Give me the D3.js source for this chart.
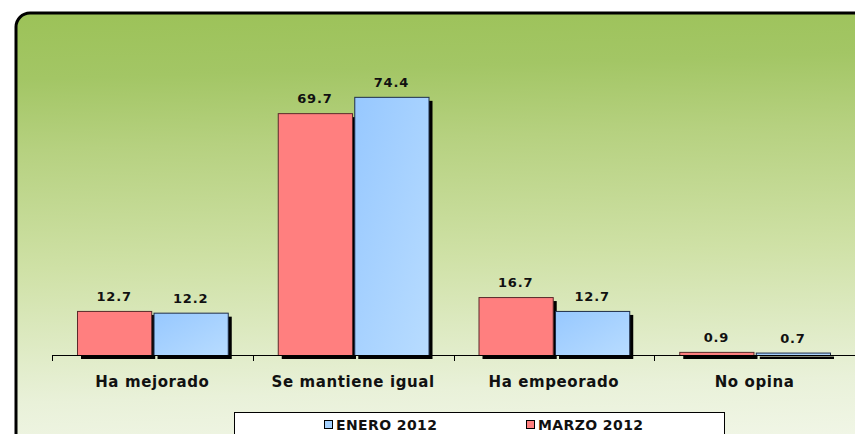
<!DOCTYPE html>
<html><head><meta charset="utf-8">
<script src="https://cdn.jsdelivr.net/npm/d3@7"></script>
<style>body{margin:0;background:#fff;} svg{display:block;}</style>
</head><body>
<script>
const categories = ["Ha mejorado", "Se mantiene igual", "Ha empeorado", "No opina"];
const seriesNames = ["MARZO 2012", "ENERO 2012"];
const marzo = [12.7, 69.7, 16.7, 0.9];
const enero = [12.2, 74.4, 12.7, 0.7];
const legendOrder = ["ENERO 2012", "MARZO 2012"];

const W = 855, H = 434;
const svg = d3.select("body").append("svg").attr("width", W).attr("height", H);
const defs = svg.append("defs");

const bg = defs.append("linearGradient").attr("id", "bg").attr("x1", "0").attr("y1", "0").attr("x2", "0.06").attr("y2", "1");
[[0, "#9cc258"], [0.14, "#a3c665"], [0.29, "#b6d180"], [0.54, "#cfe1a6"], [0.82, "#e9f1d9"], [1, "#f4f8ec"]]
  .forEach(([o, c]) => bg.append("stop").attr("offset", o).attr("stop-color", c));

const blueG = defs.append("linearGradient").attr("id", "blueG").attr("x1", "0").attr("y1", "0").attr("x2", "1").attr("y2", "1");
blueG.append("stop").attr("offset", "0").attr("stop-color", "#97c8ff");
blueG.append("stop").attr("offset", "1").attr("stop-color", "#b8dcff");

svg.append("rect").attr("x", 16).attr("y", 13).attr("width", W + 40).attr("height", 474)
  .attr("rx", 14).attr("fill", "url(#bg)").attr("stroke", "#000").attr("stroke-width", 3);

const x0 = d3.scaleBand().domain(categories).range([52, 855]).paddingInner(0).paddingOuter(0);
const x1 = d3.scaleBand().domain(seriesNames).range([25, x0.bandwidth() - 25]).paddingInner(0.03);
const y = d3.scaleLinear().domain([0, 80]).range([355, 355 - 80 * 3.47]);

const colors = { "MARZO 2012": "#ff7f7f", "ENERO 2012": "url(#blueG)" };
const strokes = { "MARZO 2012": "#5a2a2a", "ENERO 2012": "#1e2e4a" };
const legendColors = { "MARZO 2012": "#ff7f7f", "ENERO 2012": "#a6d2ff" };

const data = categories.map((c, i) => ({ cat: c, vals: [{ s: "MARZO 2012", v: marzo[i] }, { s: "ENERO 2012", v: enero[i] }] }));

const g = svg.append("g");
const groups = g.selectAll("g.cat").data(data).join("g").attr("transform", d => `translate(${x0(d.cat)},0)`);

// shadows
groups.selectAll("rect.sh").data(d => d.vals).join("rect")
  .attr("x", d => x1(d.s) + 4).attr("y", d => y(d.v) + 4)
  .attr("width", x1.bandwidth()).attr("height", d => Math.max(0, y(0) - y(d.v)))
  .attr("fill", "#000");

groups.selectAll("rect.bar").data(d => d.vals).join("rect")
  .attr("x", d => x1(d.s) + 0.5).attr("y", d => y(d.v) + 0.5)
  .attr("width", x1.bandwidth()).attr("height", d => y(0) - y(d.v))
  .attr("fill", d => colors[d.s]).attr("stroke", d => strokes[d.s]).attr("stroke-width", 1);

groups.selectAll("text.val").data(d => d.vals).join("text")
  .attr("x", d => x1(d.s) + x1.bandwidth() / 2).attr("y", d => y(d.v) - 10)
  .attr("text-anchor", "middle").attr("font-family", "DejaVu Sans").attr("font-weight", "bold")
  .attr("font-size", 13).attr("letter-spacing", 0.8).attr("fill", "#111")
  .text(d => d.v.toFixed(1));

// axis
const axis = d3.axisBottom(x0).tickSize(0).tickFormat("");
const ax = svg.append("g").attr("transform", `translate(0,${y(0)})`).call(axis);
ax.select(".domain").remove();
ax.append("line").attr("x1", 52).attr("x2", 855).attr("y1", 0.5).attr("y2", 0.5).attr("stroke", "#000");
const bounds = categories.map(c => x0(c)).concat([x0(categories[categories.length - 1]) + x0.bandwidth()]);
ax.selectAll("line.tk").data(bounds).join("line").attr("class", "tk")
  .attr("x1", d => Math.round(d) + 0.5).attr("x2", d => Math.round(d) + 0.5).attr("y1", 0).attr("y2", 6).attr("stroke", "#000");
ax.selectAll("text.cl").data(categories).join("text").attr("class", "cl")
  .attr("x", d => x0(d) + x0.bandwidth() / 2).attr("y", 32)
  .attr("text-anchor", "middle").attr("font-family", "DejaVu Sans").attr("font-weight", "bold")
  .attr("font-size", 15).attr("letter-spacing", 0.6).attr("fill", "#111").text(d => d);

// legend
const lg = svg.append("g");
lg.append("rect").attr("x", 234.5).attr("y", 412.5).attr("width", 490).attr("height", 40).attr("fill", "#fff").attr("stroke", "#000");
const lx = { "ENERO 2012": 324, "MARZO 2012": 526 };
legendOrder.forEach(s => {
  lg.append("rect").attr("x", lx[s] + 0.5).attr("y", 420.5).attr("width", 8).attr("height", 8)
    .attr("fill", legendColors[s]).attr("stroke", "#000");
  lg.append("text").attr("x", lx[s] + 12).attr("y", 430).attr("font-family", "DejaVu Sans").attr("font-weight", "bold")
    .attr("font-size", 14).attr("letter-spacing", 0.4).attr("fill", "#111").text(s);
});
</script>
</body></html>
